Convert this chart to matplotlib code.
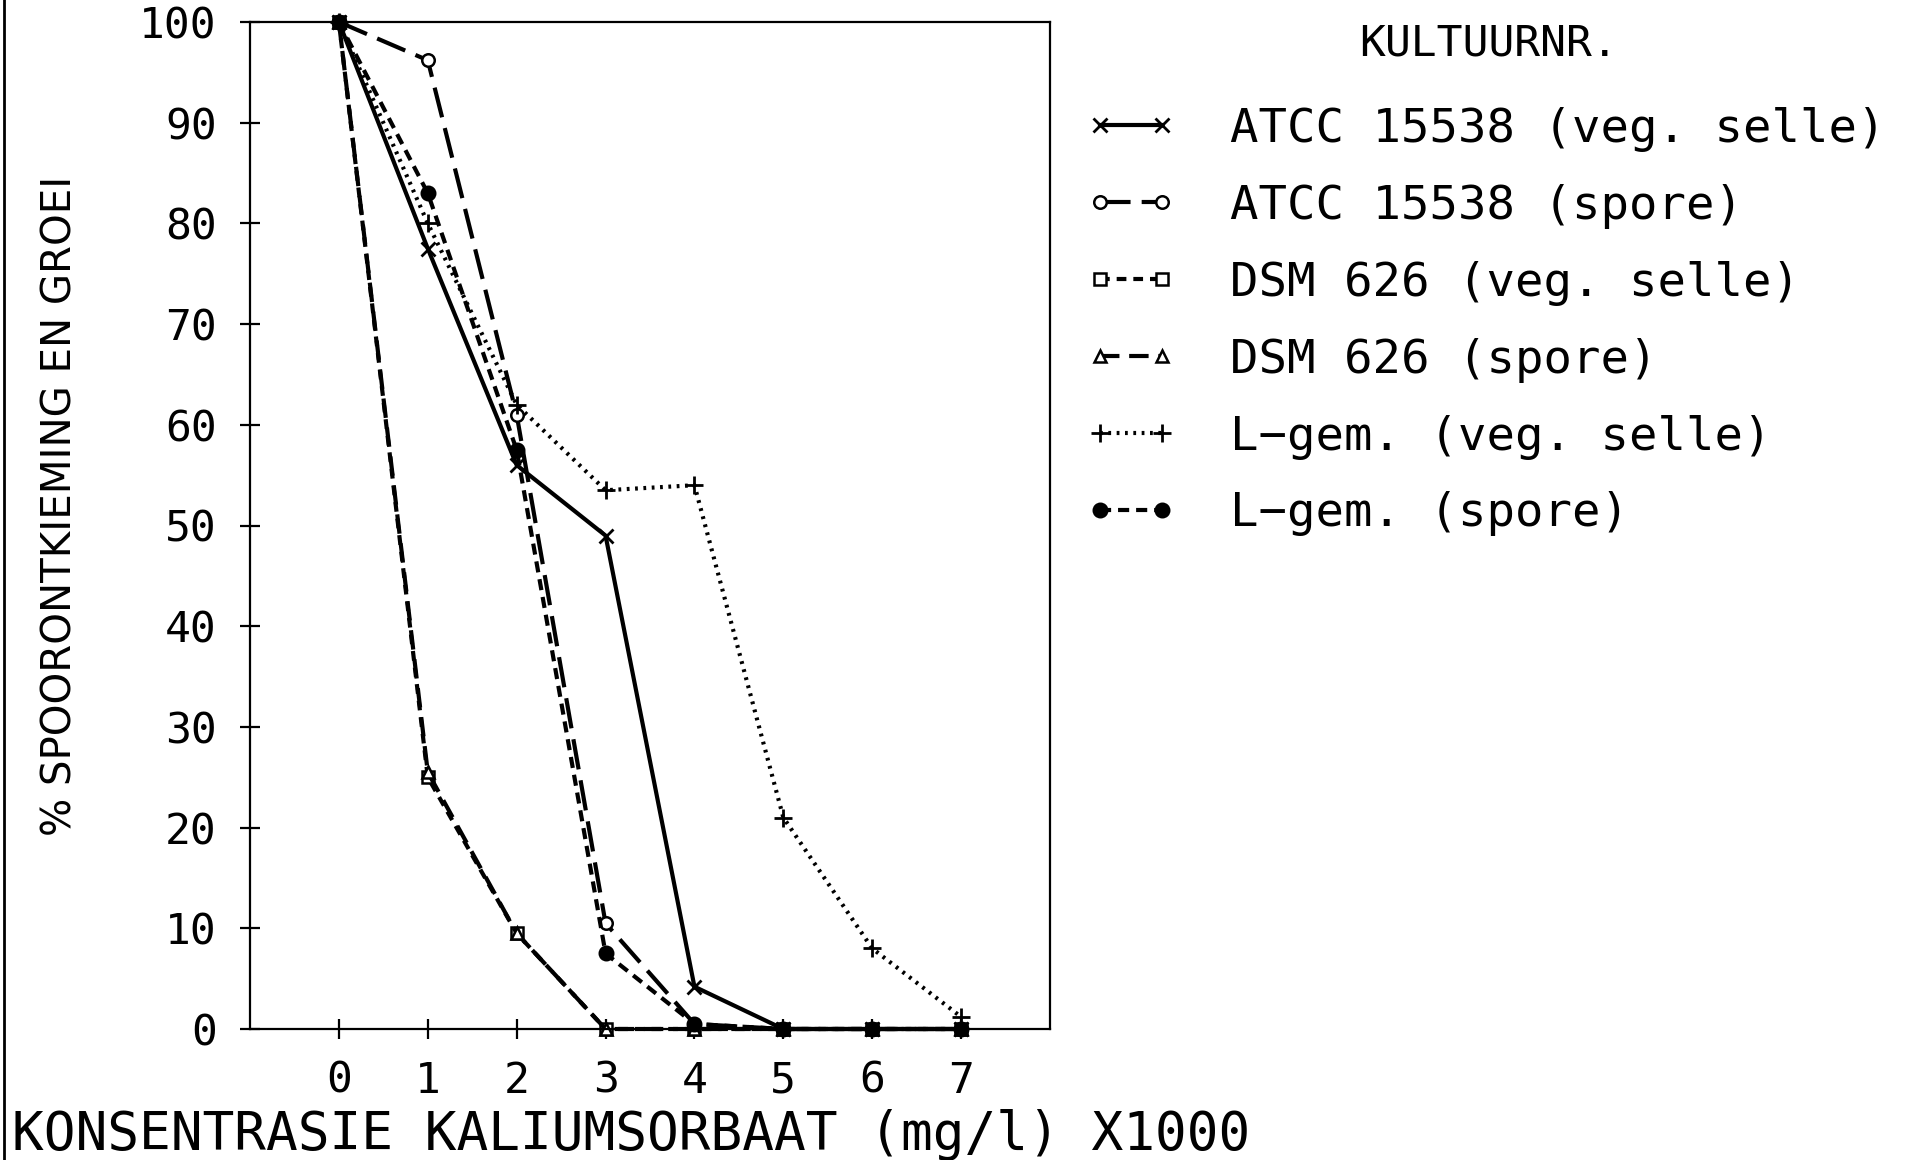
import matplotlib
matplotlib.use("Agg")
import matplotlib.pyplot as plt
from matplotlib.lines import Line2D

# plotter-style lettering: monospaced, wide
plt.rcParams['font.family'] = ['DejaVu Sans Mono', 'DejaVu Sans']
plt.rcParams['lines.scale_dashes'] = False

# --- data ---
konsentrasie = [0, 1, 2, 3, 4, 5, 6, 7]
atcc_veg = [100, 77.5, 56, 49, 4.2, 0, 0, 0]
atcc_spore = [100, 96.2, 61, 10.5, 0.5, 0, 0, 0]
dsm_veg = [100, 25, 9.5, 0, 0, 0, 0, 0]
dsm_spore = [100, 25.5, 9.5, 0, 0, 0, 0, 0]
lgem_veg = [100, 80, 62, 53.5, 54, 21, 8, 1.2]
lgem_spore = [100, 83, 57.5, 7.5, 0.5, 0, 0, 0]

labels = ['ATCC 15538 (veg. selle)', 'ATCC 15538 (spore)', 'DSM 626 (veg. selle)',
          'DSM 626 (spore)', 'L\u2212gem. (veg. selle)', 'L\u2212gem. (spore)']

fig = plt.figure(figsize=(19.14, 11.6), dpi=100)
ax = fig.add_axes([250 / 1914, 131 / 1160, 800 / 1914, 1007 / 1160])

lw = 3.0
styles = [
    dict(ls='-', marker='x', ms=10, mew=2, mfc='black'),
    dict(dashes=(22, 8), marker='o', ms=9, mew=1.8, mfc='white'),
    dict(dashes=(7, 5), marker='s', ms=9, mew=1.8, mfc='white'),
    dict(dashes=(14, 7), marker='^', ms=9, mew=1.8, mfc='white'),
    dict(dashes=(2, 4), marker='+', ms=13, mew=2),
    dict(dashes=(8, 5), marker='o', ms=10, mew=1.5, mfc='black'),
]
series = [atcc_veg, atcc_spore, dsm_veg, dsm_spore, lgem_veg, lgem_spore]

handles = []
for vals, st, lab in zip(series, styles, labels):
    ln, = ax.plot(konsentrasie, vals, color='black', lw=lw, mec='black',
                  clip_on=False, label=lab, **st)
    handles.append(ln)

ax.set_xlim(-1, 8)
ax.set_ylim(0, 100)
ax.set_xticks(konsentrasie)
ax.set_yticks(range(0, 101, 10))
for s in ax.spines.values():
    s.set_linewidth(1.6)
ax.tick_params(axis='both', direction='inout', length=14, width=1.6, labelsize=31)
ax.tick_params(axis='y', pad=17)
ax.tick_params(axis='x', pad=15)

fig.text(61 / 1914, 1 - 506 / 1160, '% SPOORONTKIEMING EN GROEI', rotation=90,
         ha='center', va='center', fontsize=29, family='DejaVu Sans')
fig.text(12 / 1914, 1 - 1135 / 1160, 'KONSENTRASIE KALIUMSORBAAT (mg/l) X1000',
         ha='left', va='center', fontsize=38)

# legend title drawn separately so its gap to the rows can be set freely
fig.text(1488 / 1914, 1 - 43 / 1160, 'KULTUURNR.', ha='center', va='center', fontsize=31)
leg = fig.legend(handles=handles, labels=labels, loc='upper left',
                 bbox_to_anchor=(1086 / 1914, 1 - 107 / 1160), bbox_transform=fig.transFigure,
                 frameon=False, fontsize=34,
                 numpoints=2, handlelength=1.9, handletextpad=1.14, labelspacing=0.675,
                 borderpad=0, borderaxespad=0)

# scanned page edge on the left
fig.add_artist(Line2D([4 / 1914, 4 / 1914], [0, 1], color='black', lw=2, transform=fig.transFigure))

fig.savefig('out.png', dpi=100)
